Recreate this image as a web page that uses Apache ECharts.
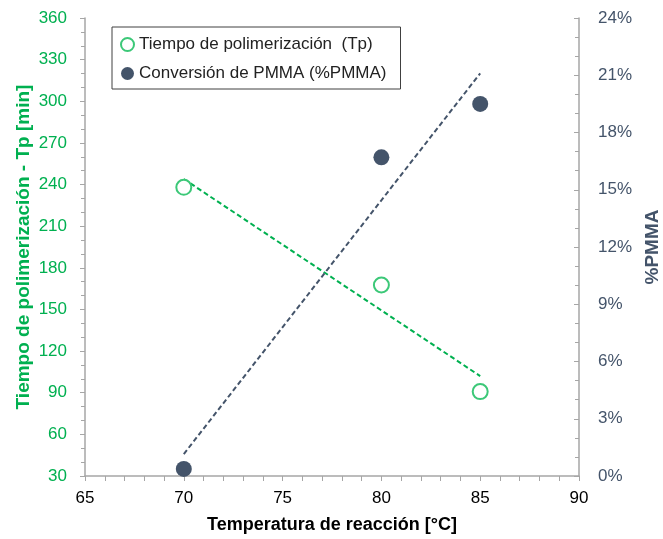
<!DOCTYPE html>
<html><head><meta charset="utf-8">
<script src="https://cdn.jsdelivr.net/npm/echarts@6/dist/echarts.min.js"></script>
<style>html,body{margin:0;padding:0;background:#fff}#c{width:663px;height:539px}</style>
</head><body><div id="c"></div>
<script>
const temps = [70, 80, 85];
const tpValues = [238, 167.6, 90.8];
const pmmaValues = [0.37, 16.7, 19.5];
const tpTrend = [[70, 244], [85, 102]];
const pmmaTrend = [[70, 1.15], [85, 21.1]];
const xTicks = {min: 65, max: 90, interval: 5};
const leftTicks = {min: 30, max: 360, interval: 30};
const rightTicks = {min: 0, max: 24, interval: 3};

const green = '#00B050';
const lightGreen = '#3CC878';
const slate = '#44546A';
const axisGray = '#A6A6A6';
const font = 'Liberation Sans, Arial, sans-serif';

const chart = echarts.init(document.getElementById('c'));
chart.setOption({
  animation: false,
  textStyle: {fontFamily: font},
  grid: {left: 85, right: 84, top: 18, bottom: 63, containLabel: false, outerBoundsMode: 'none'},
  legend: {
    orient: 'vertical', left: 112, top: 27,
    data: ['Tiempo de polimerización  (Tp)', 'Conversión de PMMA (%PMMA)'],
    borderColor: '#404040', borderWidth: 1,
    padding: [9, 14, 7, 8], itemGap: 12, itemWidth: 13, itemHeight: 13,
    textStyle: {fontSize: 17, color: '#222', fontFamily: font}
  },
  xAxis: {
    type: 'value', min: xTicks.min, max: xTicks.max, interval: xTicks.interval,
    name: 'Temperatura de reacción [°C]', nameLocation: 'middle', nameGap: 40,
    nameTextStyle: {fontSize: 18, fontWeight: 'bold', color: '#000', fontFamily: font},
    axisLine: {onZero: false, lineStyle: {color: axisGray, width: 1.5}},
    axisTick: {show: true, length: 5, lineStyle: {color: axisGray}},
    minorTick: {show: true, splitNumber: 5, length: 5, lineStyle: {color: axisGray}},
    axisLabel: {fontSize: 17, color: '#000', margin: 14},
    splitLine: {show: false}
  },
  yAxis: [{
    type: 'value', min: leftTicks.min, max: leftTicks.max, interval: leftTicks.interval,
    name: 'Tiempo de polimerización - Tp [min]', nameLocation: 'middle', nameGap: 52, nameRotate: 90,
    nameMoveOverlap: false,
    nameTextStyle: {fontSize: 19, fontWeight: 'bold', color: green, fontFamily: font},
    axisLine: {show: true, onZero: false, lineStyle: {color: axisGray, width: 1.5}},
    axisTick: {show: true, length: 5, lineStyle: {color: axisGray}},
    minorTick: {show: true, splitNumber: 3, length: 4, lineStyle: {color: axisGray}},
    axisLabel: {fontSize: 17, color: green, margin: 18},
    splitLine: {show: false}
  }, {
    type: 'value', position: 'right', min: rightTicks.min, max: rightTicks.max, interval: rightTicks.interval,
    name: '%PMMA', nameLocation: 'middle', nameGap: 64, nameRotate: 90,
    nameTextStyle: {fontSize: 19, fontWeight: 'bold', color: slate, fontFamily: font},
    axisLine: {show: true, onZero: false, lineStyle: {color: axisGray, width: 1.5}},
    axisTick: {show: true, inside: true, length: 5, lineStyle: {color: axisGray}},
    minorTick: {show: true, splitNumber: 3, length: 4, lineStyle: {color: axisGray}},
    axisLabel: {fontSize: 17, color: slate, margin: 19, formatter: '{value}%'},
    splitLine: {show: false}
  }],
  series: [{
    name: 'Tp trend', type: 'line', yAxisIndex: 0, data: tpTrend, symbol: 'none',
    lineStyle: {color: green, width: 2, type: [5, 3]}, silent: true, z: 1
  }, {
    name: 'PMMA trend', type: 'line', yAxisIndex: 1, data: pmmaTrend, symbol: 'none',
    lineStyle: {color: slate, width: 2, type: [5, 3]}, silent: true, z: 1
  }, {
    name: 'Tiempo de polimerización  (Tp)', type: 'scatter', yAxisIndex: 0,
    data: temps.map((t, i) => [t, tpValues[i]]),
    symbol: 'emptyCircle', symbolSize: 15,
    itemStyle: {color: lightGreen, borderWidth: 1.5, opacity: 1}, z: 3
  }, {
    name: 'Conversión de PMMA (%PMMA)', type: 'scatter', yAxisIndex: 1,
    data: temps.map((t, i) => [t, pmmaValues[i]]),
    symbol: 'circle', symbolSize: 16,
    itemStyle: {color: slate, opacity: 1}, z: 3
  }]
});
</script></body></html>
